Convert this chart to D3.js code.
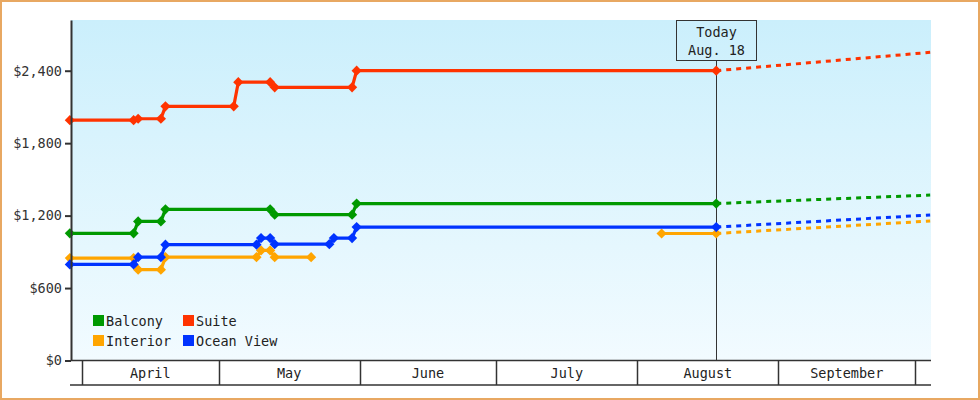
<!DOCTYPE html>
<html><head><meta charset="utf-8">
<script src="https://cdn.jsdelivr.net/npm/d3@7/dist/d3.min.js"></script>
<style>
html,body{margin:0;padding:0;background:#fff;}
svg{display:block;font-family:"DejaVu Sans Mono",monospace;}
</style></head>
<body>
<svg id="c" width="980" height="400"></svg>
<script>
// ---- data ----
const year = 2023;
const monthLabels = ["April","May","June","July","August","September"];
const yTicks = [0,600,1200,1800,2400];
const todayDate = "08-18";
const todayLabel = ["Today","Aug. 18"];
const forecastEnd = "10-04";

const seriesNames = ["Balcony","Interior","Ocean View","Suite"];
const seriesColors = ["#009900","#ffa500","#0033ff","#ff3300"];

const balcony = [["03-29",1053],["04-12",1053],["04-13",1152],["04-18",1152],["04-19",1252],
  ["05-12",1252],["05-13",1208],["05-30",1208],["05-31",1300],["08-18",1300]];
const interior = [["03-29",848],["04-12",848],["04-13",752],["04-18",752],["04-19",856],
  ["05-09",856],["05-10",912],["05-12",912],["05-13",856],["05-21",856]];
const interiorLate = [["08-06",1052],["08-18",1052]];
const oceanView = [["03-29",796],["04-12",796],["04-13",856],["04-18",856],["04-19",959],
  ["05-09",959],["05-10",1014],["05-12",1014],["05-13",963],["05-25",963],["05-26",1014],
  ["05-30",1014],["05-31",1105],["08-18",1105]];
const suite = [["03-29",1990],["04-12",1990],["04-13",2002],["04-18",2002],["04-19",2105],
  ["05-04",2105],["05-05",2305],["05-12",2305],["05-13",2262],["05-30",2262],["05-31",2400],["08-18",2400]];
// forecast end values (Oct 4)
const forecastValues = [1370, 1155, 1205, 2552];

// ---- helpers ----
const POINT_HOUR = 8;
const toDate = s => { const [m,d] = s.split("-").map(Number); return new Date(Date.UTC(year, m-1, d, POINT_HOUR)); };
const toPts = arr => arr.map(([d,v]) => ({date: toDate(d), v}));

const svg = d3.select("#c");
const pLeft = 71, pRight = 931, pTop = 20, pBottom = 360.5;
const FS = 13.5;

const x = d3.scaleUtc()
  .domain([new Date(Date.UTC(year,3,1)), new Date(Date.UTC(year,9,1))])
  .range([82, 915]);
const y = d3.scaleLinear().domain([0, 2820]).range([pBottom, pTop]);

// gradient
const defs = svg.append("defs");
const g = defs.append("linearGradient").attr("id","bg").attr("x1",0).attr("y1",0).attr("x2",0).attr("y2",1);
g.append("stop").attr("offset","0%").attr("stop-color","#cbeffc");
g.append("stop").attr("offset","100%").attr("stop-color","#f2fbff");

svg.append("rect").attr("x",1).attr("y",1).attr("width",978).attr("height",398)
  .attr("fill","#fff").attr("stroke","#e8a862").attr("stroke-width",2);

svg.append("rect").attr("x",pLeft).attr("y",pTop).attr("width",pRight-pLeft).attr("height",pBottom-pTop)
  .attr("fill","url(#bg)");

// today line + box
const today = toDate(todayDate);
const tx = x(today);
svg.append("line").attr("x1",Math.round(tx)+0.5).attr("x2",Math.round(tx)+0.5)
  .attr("y1",60.5).attr("y2",pBottom).attr("stroke","#333").attr("stroke-width",1);
svg.append("rect").attr("x",Math.round(tx)-40+0.5).attr("y",20.5).attr("width",80).attr("height",40)
  .attr("fill","none").attr("stroke","#333").attr("stroke-width",1);
todayLabel.forEach((t,i)=>{
  svg.append("text").attr("x",Math.round(tx)+0.5).attr("y",37+i*18).attr("text-anchor","middle")
    .attr("font-size",FS).attr("fill","#222").text(t);
});

// series
const line = d3.line().x(d=>x(d.date)).y(d=>y(d.v));
const allSeries = [toPts(balcony), toPts(interior), toPts(oceanView), toPts(suite)];
const lateSeg = {1: toPts(interiorLate)};
const diamond = d3.symbol(d3.symbolSquare, 52);

allSeries.forEach((pts,i)=>{
  const col = seriesColors[i];
  const gg = svg.append("g");
  const segs = [pts];
  if (lateSeg[i]) segs.push(lateSeg[i]);
  const last = segs[segs.length-1];
  const lp = last[last.length-1];
  const fc = [lp, {date: toDate(forecastEnd), v: forecastValues[i]}];
  gg.append("path").attr("d", line(fc)).attr("fill","none").attr("stroke",col)
    .attr("stroke-width",3).attr("stroke-dasharray","5,5");
  segs.forEach(s=>{
    gg.append("path").attr("d", line(s)).attr("fill","none").attr("stroke",col)
      .attr("stroke-width",3.2).attr("stroke-linejoin","round");
    gg.selectAll(null).data(s).enter().append("path")
      .attr("d", diamond)
      .attr("transform", d=>`translate(${x(d.date)},${y(d.v)}) rotate(45)`)
      .attr("fill", col);
  });
});

// y axis
const ya = svg.append("g").attr("transform",`translate(${pLeft},0)`)
  .call(d3.axisLeft(y).tickValues(yTicks).tickSize(6).tickSizeOuter(0).tickPadding(3)
    .tickFormat(d=>"$"+d3.format(",")(d)));
ya.select(".domain").attr("stroke","#333").attr("stroke-width",2);
ya.selectAll(".tick line").attr("stroke","#333").attr("stroke-width",2);
ya.selectAll(".tick text").attr("font-family","DejaVu Sans Mono, monospace").attr("font-size",FS).attr("fill","#333");

// x axis: month bands
const monthStarts = d3.utcMonth.range(new Date(Date.UTC(year,3,1)), new Date(Date.UTC(year,9,2)));
const xa = svg.append("g");
xa.append("line").attr("x1",pLeft).attr("x2",pRight).attr("y1",pBottom).attr("y2",pBottom)
  .attr("stroke","#333").attr("stroke-width",1.5);
xa.append("line").attr("x1",pLeft-1).attr("x2",pRight).attr("y1",385).attr("y2",385)
  .attr("stroke","#333").attr("stroke-width",1.5);
xa.selectAll(".sep").data(monthStarts).enter().append("line")
  .attr("x1",d=>Math.round(x(d))+0.5).attr("x2",d=>Math.round(x(d))+0.5)
  .attr("y1",pBottom).attr("y2",385).attr("stroke","#333").attr("stroke-width",1.5);
xa.selectAll(".ml").data(monthLabels).enter().append("text")
  .attr("x",(d,i)=>(x(monthStarts[i])+x(monthStarts[i+1]))/2)
  .attr("y",378).attr("text-anchor","middle").attr("font-size",FS).attr("fill","#222")
  .text(d=>d);

// legend
const legendOrder = [0,3,1,2]; // Balcony, Suite / Interior, Ocean View
legendOrder.forEach((si,k)=>{
  const col = k%2, row = Math.floor(k/2);
  const lx = 93 + col*90, ly = 315 + row*20;
  svg.append("rect").attr("x",lx).attr("y",ly).attr("width",11).attr("height",11).attr("fill",seriesColors[si]);
  svg.append("text").attr("x",lx+13).attr("y",ly+10.5).attr("font-size",FS).attr("fill","#222").text(seriesNames[si]);
});
</script>
</body></html>
